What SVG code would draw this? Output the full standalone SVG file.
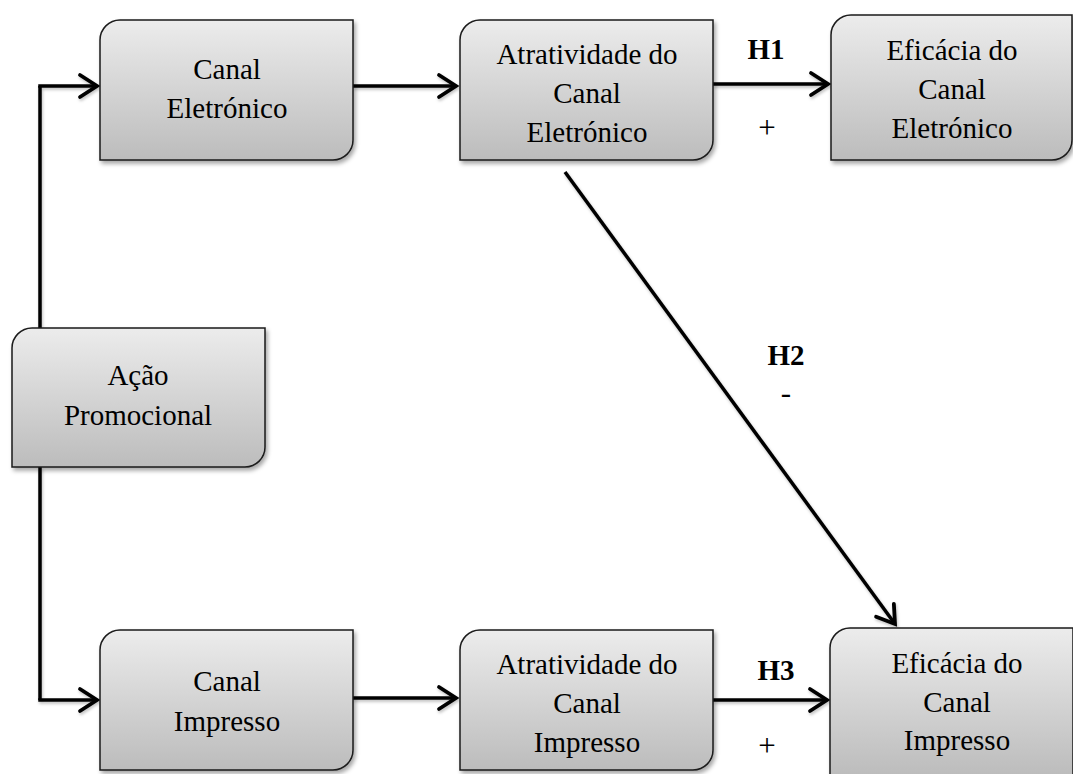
<svg xmlns="http://www.w3.org/2000/svg" width="1073" height="774" viewBox="0 0 1073 774">
  <defs>
    <linearGradient id="g" x1="0" y1="0" x2="0" y2="1">
      <stop offset="0" stop-color="#ececec"/>
      <stop offset="1" stop-color="#bcbcbc"/>
    </linearGradient>
    <filter id="sh" x="-10%" y="-10%" width="130%" height="130%">
      <feDropShadow dx="2" dy="3" stdDeviation="2" flood-color="#000" flood-opacity="0.35"/>
    </filter>
    <filter id="lsh" x="-10%" y="-10%" width="130%" height="130%">
      <feDropShadow dx="1" dy="2" stdDeviation="1.5" flood-color="#000" flood-opacity="0.25"/>
    </filter>
    <marker id="arr" markerUnits="userSpaceOnUse" viewBox="-20 -14 24 28" refX="0" refY="0" markerWidth="24" markerHeight="28" orient="auto">
      <path d="M-17,-11 L0,0 L-17,11" fill="none" stroke="#000" stroke-width="3.8" stroke-linecap="round" stroke-linejoin="miter"/>
    </marker>
  </defs>
  <style>
    .box { fill: url(#g); stroke: #1a1a1a; stroke-width: 1.5; filter: url(#sh); }
    .t { font-family: "Liberation Serif", "Times New Roman", serif; font-size: 29px; fill: #000; text-anchor: middle; }
    .h { font-family: "Liberation Serif", "Times New Roman", serif; font-size: 29px; font-weight: bold; fill: #000; text-anchor: middle; }
    .s { font-family: "Liberation Serif", "Times New Roman", serif; font-size: 31px; fill: #000; text-anchor: middle; }
    .c { fill: none; stroke: #000; stroke-width: 3.5; marker-end: url(#arr); }
    .cn { fill: none; stroke: #000; stroke-width: 3.5; }
  </style>

  <g id="connectors" filter="url(#lsh)">
    <path class="cn" d="M40,328 V86"/>
    <path class="c" d="M38.25,86 H97"/>
    <path class="cn" d="M40,467 V700"/>
    <path class="c" d="M38.25,700 H97"/>
    <path class="c" d="M353,86 H456"/>
    <path class="c" d="M713,84 H828"/>
    <path class="c" d="M353,698 H456"/>
    <path class="c" d="M713,700 H827"/>
    <path class="c" d="M565,172 L895,624"/>
  </g>

  <g id="labels">
    <text class="h" x="766" y="59">H1</text>
    <text class="s" x="767" y="138">+</text>
    <text class="h" x="786" y="365">H2</text>
    <text class="s" x="786" y="403">-</text>
    <text class="h" x="776" y="680">H3</text>
    <text class="s" x="767" y="756">+</text>
  </g>

  <g id="canal-eletronico">
    <path class="box" d="M120,20 H353 V140 A20,20 0 0 1 333,160 H100 V40 A20,20 0 0 1 120,20 Z"/>
    <text class="t" x="227" y="79">Canal</text>
    <text class="t" x="227" y="118">Eletrónico</text>
  </g>

  <g id="atratividade-eletronico">
    <path class="box" d="M480,20 H713 V140 A20,20 0 0 1 693,160 H460 V40 A20,20 0 0 1 480,20 Z"/>
    <text class="t" x="587" y="64">Atratividade do</text>
    <text class="t" x="587" y="103">Canal</text>
    <text class="t" x="587" y="142">Eletrónico</text>
  </g>

  <g id="eficacia-eletronico">
    <path class="box" d="M851,15 H1072 V140 A20,20 0 0 1 1052,160 H831 V35 A20,20 0 0 1 851,15 Z"/>
    <text class="t" x="952" y="60">Eficácia do</text>
    <text class="t" x="952" y="99">Canal</text>
    <text class="t" x="952" y="138">Eletrónico</text>
  </g>

  <g id="acao-promocional">
    <path class="box" d="M32,328 H265 V447 A20,20 0 0 1 245,467 H12 V348 A20,20 0 0 1 32,328 Z"/>
    <text class="t" x="138" y="385">Ação</text>
    <text class="t" x="138" y="425">Promocional</text>
  </g>

  <g id="canal-impresso">
    <path class="box" d="M120,630 H353 V750 A20,20 0 0 1 333,770 H100 V650 A20,20 0 0 1 120,630 Z"/>
    <text class="t" x="227" y="691">Canal</text>
    <text class="t" x="227" y="731">Impresso</text>
  </g>

  <g id="atratividade-impresso">
    <path class="box" d="M480,630 H713 V750 A20,20 0 0 1 693,770 H460 V650 A20,20 0 0 1 480,630 Z"/>
    <text class="t" x="587" y="674">Atratividade do</text>
    <text class="t" x="587" y="713">Canal</text>
    <text class="t" x="587" y="752">Impresso</text>
  </g>

  <g id="eficacia-impresso">
    <path class="box" d="M850,628 H1073 V776 H830 V648 A20,20 0 0 1 850,628 Z"/>
    <text class="t" x="957" y="673">Eficácia do</text>
    <text class="t" x="957" y="712">Canal</text>
    <text class="t" x="957" y="750">Impresso</text>
  </g>
</svg>
